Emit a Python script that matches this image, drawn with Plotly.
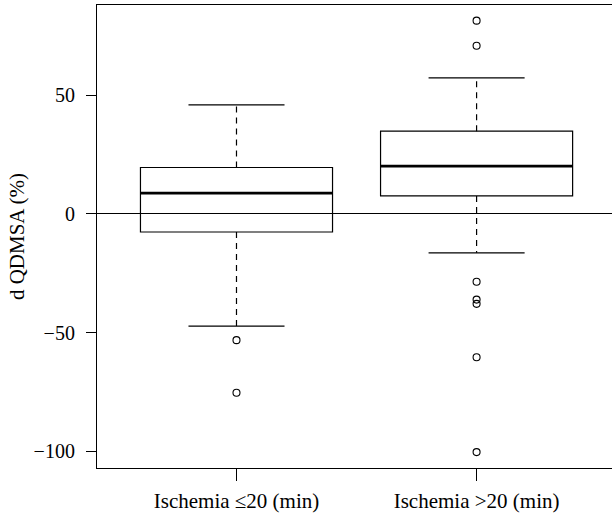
import plotly.graph_objects as go

groups = ["Ischemia \u226420 (min)", "Ischemia >20 (min)"]
positions = [1, 2]
q1 = [-7.6, 7.6]
median = [8.8, 20.2]
q3 = [19.6, 34.9]
lower_whisker = [-47.3, -16.4]
upper_whisker = [46.0, 57.4]
outliers = [
    [-53.2, -75.4],
    [81.5, 70.9, -28.6, -36.1, -37.9, -60.4, -100.4],
]
ytick_vals = [-100, -50, 0, 50]
ytick_text = ["\u2212100", "\u221250", "0", "50"]

BOXW = 0.8
CAPW = 0.4
FONT = "Liberation Serif"

fig = go.Figure()

fig.add_trace(go.Box(
    x=positions, q1=q1, median=median, q3=q3,
    lowerfence=q1, upperfence=q3,
    width=BOXW, whiskerwidth=0,
    line=dict(color="black", width=1.2),
    fillcolor="rgba(0,0,0,0)", boxpoints=False, showlegend=False,
    hoverinfo="skip",
))

for p, a, b, lo, hi, md, out in zip(positions, q1, q3, lower_whisker, upper_whisker, median, outliers):
    fig.add_trace(go.Scatter(
        x=[p, p, None, p, p], y=[b, hi, None, a, lo], mode="lines",
        line=dict(color="black", width=1.2, dash="6px,5px"), showlegend=False,
        hoverinfo="skip"))
    fig.add_trace(go.Scatter(
        x=[p - CAPW / 2, p + CAPW / 2, None, p - CAPW / 2, p + CAPW / 2],
        y=[hi, hi, None, lo, lo], mode="lines",
        line=dict(color="black", width=1.2), showlegend=False, hoverinfo="skip"))
    fig.add_trace(go.Scatter(
        x=[p - BOXW / 2, p + BOXW / 2], y=[md, md], mode="lines",
        line=dict(color="black", width=2.8), showlegend=False, hoverinfo="skip"))
    fig.add_trace(go.Scatter(
        x=[p] * len(out), y=out, mode="markers",
        marker=dict(symbol="circle-open", size=7, color="black", line=dict(width=1.1)),
        showlegend=False, hoverinfo="skip"))

fig.update_layout(
    width=612, height=513,
    margin=dict(l=97, r=0, t=5, b=45),
    plot_bgcolor="white", paper_bgcolor="white",
    font=dict(family=FONT, size=20, color="black"),
)
fig.update_xaxes(
    range=[0.419, 2.564], tickmode="array", tickvals=positions, ticktext=groups,
    showline=True, linecolor="black", linewidth=1.2, mirror=True,
    ticks="outside", ticklen=12, tickwidth=1.2, tickcolor="black",
    showgrid=False, zeroline=False, tickfont=dict(size=21),
    ticklabelstandoff=2,
)
fig.update_yaxes(
    range=[-107.1, 88.1], tickmode="array", tickvals=ytick_vals, ticktext=ytick_text,
    showline=True, linecolor="black", linewidth=1.2, mirror=False,
    ticks="outside", ticklen=10, tickwidth=1.2, tickcolor="black",
    showgrid=False, zeroline=True, zerolinecolor="black", zerolinewidth=1.2,
    ticklabelstandoff=7,
    title=dict(text="d QDMSA (%)", font=dict(size=21), standoff=3),
)

fig.write_html(
    "out.html",
    config={"displayModeBar": False},
    post_script="document.body.style.margin='0';document.body.style.overflow='hidden';",
)
